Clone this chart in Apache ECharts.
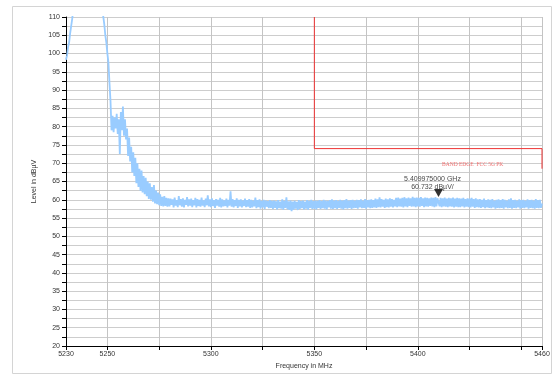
<!DOCTYPE html>
<html>
<head>
<meta charset="utf-8">
<script src="https://cdn.jsdelivr.net/npm/echarts@6/dist/echarts.min.js"></script>
<style>
  html, body { margin: 0; padding: 0; background: #fff; }
  #chart { width: 558px; height: 376px; }
</style>
</head>
<body>
<div id="chart"></div>
<script>
// trace sampled every 0.5 MHz from 5230 MHz
const freqStart = 5230;
const freqStep = 0.5;

// 5230 - 5247.5 : rising into the carrier (above 110 is off scale)
const levelRise = [98.3, 99.5, 101.8, 103, 105.5, 107.5, 109.5, 112,
  114, 117, 120, 122, 124, 125, 126, 127, 127, 127, 126, 126, 125, 124,
  123, 122, 121, 120, 119, 118, 117, 116, 115, 114, 113, 112.5, 112, 111];

// 5248 - 5279.5 : skirt coming down
const levelFall = [
  110.2, 108, 105, 103, 100, 97.5, 92, 87,
  79, 83, 78.5, 82.5, 79.5, 83.5, 78, 82,
  72.5, 84, 79, 85.5, 77.5, 82, 76.5, 79.5,
  72, 77, 70.5, 74.5, 67.5, 73, 66.5, 71.5,
  64.5, 70, 63.5, 68.5, 62.5, 68, 62, 66.5,
  61.5, 66, 61, 65, 60.2, 64.5, 60, 63.5,
  59.5, 64, 59, 62.5, 58.8, 62, 58.5, 61.5,
  58.3, 60.8, 58.2, 61, 58.3, 60.5, 58.1, 60.4];

// 5280 - 5349.5 : noise floor
const levelFloorA = [
  58.2, 60.3, 58.6, 60.1, 57.9, 60.6, 58.4, 59.9, 58.0, 61.0, 58.5, 60.2, 58.1, 60.4, 57.9, 60.0, 58.6, 60.7, 58.2, 60.1,
  58.4, 60.3, 58.0, 59.9, 58.5, 60.5, 57.9, 60.2, 58.3, 60.0, 58.1, 60.6, 58.4, 59.8, 58.0, 60.3, 58.5, 61.2, 58.2, 60.1,
  58.0, 60.4, 58.3, 59.9, 57.8, 60.2, 58.4, 60.0, 58.1, 60.5, 57.9, 60.1, 58.2, 59.8, 58.3, 60.3, 57.9, 60.0, 58.4, 62.3,
  58.1, 60.2, 57.9, 59.9, 58.3, 60.4, 57.8, 60.0, 58.2, 60.1, 57.9, 59.8, 58.3, 60.3, 58.0, 59.9, 58.1, 60.2, 57.8, 60.0,
  57.9, 59.8, 58.2, 60.6, 57.7, 59.9, 58.0, 60.1, 57.6, 59.7, 57.9, 60.0, 57.5, 59.8, 58.1, 59.6, 57.7, 59.9, 57.8, 59.7,
  57.5, 59.8, 57.8, 59.6, 57.4, 59.9, 57.7, 59.5, 57.6, 60.1, 57.3, 59.7, 57.8, 60.7, 57.4, 59.6, 57.2, 59.8, 56.9, 59.5,
  57.3, 59.7, 57.6, 59.4, 57.2, 59.9, 57.5, 59.6, 57.7, 59.8, 57.4, 59.5, 57.6, 59.9, 57.3, 59.7, 57.8, 60.0, 57.5, 59.6];

// 5350 - 5409.5
const levelFloorB = [
  57.6, 59.8, 57.4, 59.7, 57.8, 59.9, 57.5, 59.6, 57.7, 60.0, 57.6, 59.8, 57.4, 59.7, 57.9, 59.9, 57.6, 60.1, 57.5, 59.8,
  57.7, 59.9, 57.5, 59.7, 57.8, 60.0, 57.6, 59.8, 57.4, 59.9, 57.7, 60.2, 57.6, 59.8, 57.8, 59.9, 57.5, 60.0, 57.7, 59.8,
  57.8, 60.0, 57.6, 59.9, 57.9, 60.1, 57.7, 59.8, 57.8, 60.2, 57.6, 59.9, 57.9, 60.0, 57.7, 60.1, 57.8, 59.9, 57.9, 60.3,
  57.8, 60.1, 58.0, 60.7, 57.9, 60.2, 58.1, 60.0, 57.8, 60.3, 58.0, 60.1, 57.9, 60.4, 58.1, 60.2, 57.9, 60.0, 58.2, 60.5,
  58.0, 60.6, 58.2, 60.3, 58.1, 60.5, 57.9, 60.7, 58.2, 60.4, 58.0, 60.6, 58.3, 60.4, 58.1, 60.8, 58.2, 60.5, 58.0, 60.6,
  58.2, 60.5, 58.1, 60.7, 58.3, 60.4, 58.0, 60.6, 58.2, 60.5, 58.1, 60.4, 58.3, 60.6, 58.2, 60.5, 58.0, 60.7, 58.2, 60.4];

// 5410 - 5460
const levelFloorC = [
  60.73, 58.2, 60.5, 58.0, 60.4, 58.2, 60.6, 58.1, 60.3, 58.0, 60.5, 58.2, 60.4, 58.1, 60.6, 57.9, 60.3, 58.1, 60.5, 58.0,
  60.4, 58.0, 60.3, 58.2, 60.5, 57.9, 60.2, 58.1, 60.4, 58.0, 60.3, 57.9, 60.5, 58.1, 60.2, 57.8, 60.4, 58.0, 60.1, 57.9,
  60.2, 57.8, 60.0, 58.0, 60.3, 57.7, 59.9, 57.9, 60.1, 57.8, 60.0, 57.7, 60.2, 57.9, 59.8, 57.6, 60.0, 57.8, 60.1, 57.7,
  59.9, 57.8, 60.2, 57.6, 60.0, 57.9, 59.8, 57.7, 60.1, 57.8, 60.4, 57.6, 59.9, 57.8, 60.0, 57.7, 59.8, 57.9, 60.1, 57.6,
  59.9, 57.8, 60.0, 57.7, 59.8, 57.9, 60.1, 57.6, 59.9, 57.8, 60.0, 57.7, 59.8, 57.6, 60.2, 57.8, 59.9, 57.7, 60.0, 57.8,
  59.0];

// limit line
const limitFreq = [5350, 5350, 5460, 5460];
const limitLevel = [110, 74, 74, 68.5];
const limitName = 'BAND EDGE  FCC 5G PK';
const limitLabelAt = [5426.5, 69.6];

// marker
const markerFreq = 5409.975;
const markerLevel = 60.732;
const markerText = ['5.409975000 GHz', '60.732 dB\u00b5V/'];

// axes
const xMin = 5230, xMax = 5460;
const xTickValues = [5230, 5250, 5275, 5300, 5325, 5350, 5375, 5400, 5425, 5450, 5460];
const xLabelValues = [5230, 5250, 5300, 5350, 5400, 5460];
const yMin = 20, yMax = 110, yStep = 2.5, yLabelStep = 5;

const levels = [].concat(levelRise, levelFall, levelFloorA, levelFloorB, levelFloorC);
const trace = levels.map((v, i) => [freqStart + i * freqStep, v]);
const limit = limitFreq.map((f, i) => [f, limitLevel[i]]);

const font = 'Liberation Sans, Arial, sans-serif';

const chart = echarts.init(document.getElementById('chart'), null, { renderer: 'canvas' });

chart.setOption({
  animation: false,
  backgroundColor: '#ffffff',
  grid: { left: 66, right: 16, top: 17, bottom: 30, containLabel: false },
  graphic: [{
    type: 'rect',
    shape: { x: 12.5, y: 6.5, width: 539, height: 367 },
    style: { fill: 'none', stroke: '#d4d4d4', lineWidth: 1 },
    z: -1
  }],
  xAxis: {
    type: 'value',
    min: xMin,
    max: xMax,
    name: 'Frequency in MHz',
    nameLocation: 'middle',
    nameGap: 17,
    nameTextStyle: { fontFamily: font, fontSize: 7, color: '#333' },
    axisLine: { show: true, onZero: false, lineStyle: { color: '#000', width: 1 } },
    axisTick: { show: true, length: 4, customValues: xTickValues, lineStyle: { color: '#000' } },
    axisLabel: {
      customValues: xLabelValues,
      formatter: v => String(v),
      fontFamily: font, fontSize: 7, color: '#333', margin: 5
    },
    splitLine: { show: true, lineStyle: { color: '#c4c4c4', width: 1 } }
  },
  yAxis: {
    type: 'value',
    min: yMin,
    max: yMax,
    interval: yStep,
    name: 'Level in dB\u00b5V',
    nameLocation: 'middle',
    nameGap: 27,
    nameTextStyle: { fontFamily: font, fontSize: 7, color: '#333' },
    axisLine: { show: true, onZero: false, lineStyle: { color: '#000', width: 1 } },
    axisTick: { show: true, length: 4, lineStyle: { color: '#000' } },
    axisLabel: {
      fontFamily: font, fontSize: 7, color: '#333', margin: 6,
      formatter: v => (v % yLabelStep === 0 ? String(v) : '')
    },
    splitLine: { show: true, lineStyle: { color: '#cdcdcd', width: 1 } }
  },
  series: [
    {
      type: 'line',
      data: trace,
      symbol: 'none',
      sampling: 'none',
      clip: true,
      lineStyle: { color: '#99ccff', width: 1.8 },
      z: 2
    },
    {
      type: 'line',
      data: limit,
      symbol: 'none',
      clip: true,
      lineStyle: { color: '#ee3333', width: 1 },
      markPoint: {
        symbol: 'rect',
        symbolSize: 0,
        data: [{ coord: limitLabelAt }],
        label: {
          show: true,
          position: 'inside',
          formatter: limitName,
          fontFamily: 'Liberation Serif, DejaVu Serif, serif',
          fontSize: 5.5,
          color: '#f07070'
        }
      },
      z: 3
    },
    {
      type: 'scatter',
      data: [[markerFreq, markerLevel]],
      symbol: 'triangle',
      symbolRotate: 180,
      symbolSize: [9, 8],
      symbolOffset: [0, -4],
      itemStyle: { color: '#000' },
      label: {
        show: true,
        position: 'top',
        distance: -2,
        offset: [-6, 0],
        align: 'center',
        lineHeight: 8,
        formatter: markerText.join('\n'),
        fontFamily: font,
        fontSize: 7,
        color: '#111'
      },
      z: 4
    }
  ]
});
</script>
</body>
</html>
